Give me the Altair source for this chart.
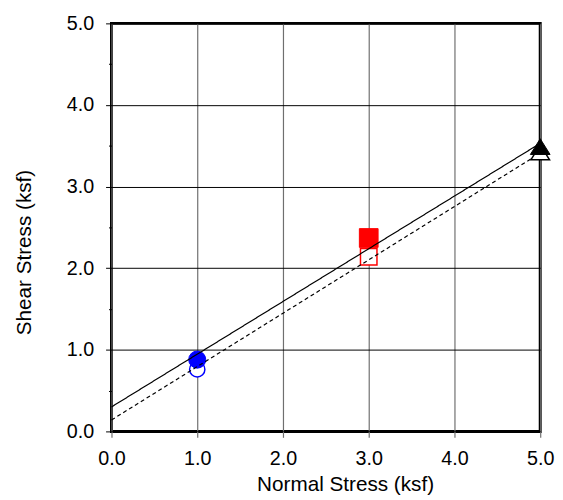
import altair as alt
import pandas as pd

# ---- data ----
x_ticks = [0, 1, 2, 3, 4, 5]
y_ticks = [0, 0.5, 1, 1.5, 2, 2.5, 3, 3.5, 4, 4.5, 5]

line_series = ["Peak", "Peak", "Residual", "Residual"]
line_x = [0, 5, 0, 5]
line_y = [0.30, 3.53, 0.14, 3.41]

tri_path = "M-1,0.8L0,-0.8L1,0.8Z"

# circles and squares (open drawn first, filled on top)
m1_x = [1, 1, 3, 3]
m1_y = [0.76, 0.88, 2.14, 2.37]
m1_shape = ["circle", "circle", "square", "square"]
m1_stroke = ["#0000FF", "#0000FF", "#FF0000", "#FF0000"]
m1_fill = ["#FFFFFF", "#0000FF", "#FFFFFF", "#FF0000"]
m1_size = [240, 300, 280, 361]
m1_sw = [1.5, 1, 1.5, 1]

# triangles
m2_x = [5, 5]
m2_y = [3.42, 3.49]
m2_shape = [tri_path, tri_path]
m2_stroke = ["#000000", "#000000"]
m2_fill = ["#FFFFFF", "#000000"]
m2_size = [360, 400]
m2_sw = [1.5, 1]

lines_df = pd.DataFrame({"s": line_series, "x": line_x, "y": line_y})
m1_df = pd.DataFrame({"x": m1_x, "y": m1_y, "shape": m1_shape, "stroke": m1_stroke,
                      "fill": m1_fill, "size": m1_size, "sw": m1_sw, "o": list(range(4))})
m2_df = pd.DataFrame({"x": m2_x, "y": m2_y, "shape": m2_shape, "stroke": m2_stroke,
                      "fill": m2_fill, "size": m2_size, "sw": m2_sw, "o": list(range(2))})

FONT = "Liberation Sans"

xscale = alt.Scale(domain=[0, 5], nice=False, zero=False)
yscale = alt.Scale(domain=[0, 5], nice=False, zero=False)

xaxis = alt.Axis(
    values=x_ticks, format=".1f", title="Normal Stress (ksf)",
    grid=True, gridColor="#6f6f6f", gridWidth=1.2,
    domain=False, ticks=True, tickSize=6, tickColor="#6f6f6f", tickWidth=1.2,
    labelFont=FONT, labelFontSize=20, labelColor="#000000", labelPadding=12,
    labelFlush=False,
    titleFont=FONT, titleFontSize=21, titleFontWeight="normal", titleColor="#000000",
    titleX=237, titleY=60, titleBaseline="alphabetic", titleAlign="center",
)
yaxis = alt.Axis(
    values=y_ticks, title="Shear Stress (ksf)",
    labelExpr="datum.value % 1 === 0 ? format(datum.value, '.1f') : ''",
    grid=True, gridColor="#000000", gridWidth=1,
    gridOpacity={"condition": {"test": "datum.value % 1 !== 0", "value": 0}, "value": 1},
    domain=False, ticks=True, tickColor="#000000", tickWidth=1,
    tickSize={"condition": {"test": "datum.value % 1 !== 0", "value": 3}, "value": 6},
    labelFont=FONT, labelFontSize=20, labelColor="#000000", labelPadding=12,
    labelFlush=False,
    titleFont=FONT, titleFontSize=21, titleFontWeight="normal", titleColor="#000000",
    titleX=-82, titleY=232, titleBaseline="alphabetic", titleAlign="center", titleAngle=-90,
)

base_x = alt.X("x:Q", scale=xscale, axis=xaxis)
base_y = alt.Y("y:Q", scale=yscale, axis=yaxis)

m1 = alt.Chart(m1_df).mark_point(opacity=1, filled=False).encode(
    x=base_x, y=base_y,
    shape=alt.Shape("shape:N", scale=None),
    stroke=alt.Stroke("stroke:N", scale=None),
    fill=alt.Fill("fill:N", scale=None),
    size=alt.Size("size:Q", scale=None),
    strokeWidth=alt.StrokeWidth("sw:Q", scale=None),
    order=alt.Order("o:Q"),
)

lines = alt.Chart(lines_df).mark_line(color="#000000", strokeWidth=1.2).encode(
    x="x:Q", y="y:Q", detail="s:N",
    strokeDash=alt.StrokeDash("s:N", scale=alt.Scale(domain=["Peak", "Residual"],
                                                     range=[[1, 0], [4, 3]]), legend=None),
)

m2 = alt.Chart(m2_df).mark_point(opacity=1, filled=False).encode(
    x="x:Q", y="y:Q",
    shape=alt.Shape("shape:N", scale=None),
    stroke=alt.Stroke("stroke:N", scale=None),
    fill=alt.Fill("fill:N", scale=None),
    size=alt.Size("size:Q", scale=None),
    strokeWidth=alt.StrokeWidth("sw:Q", scale=None),
    order=alt.Order("o:Q"),
)

chart = alt.layer(m1, lines, m2).properties(
    width=435, height=414,
    autosize=alt.AutoSizeParams(type="none"),
    padding={"left": 105, "top": 12, "right": 15, "bottom": 66},
    background="#FFFFFF",
).configure_view(stroke="#000000", strokeWidth=3)

chart.save("out.html", embed_options={"renderer": "svg", "actions": False})
